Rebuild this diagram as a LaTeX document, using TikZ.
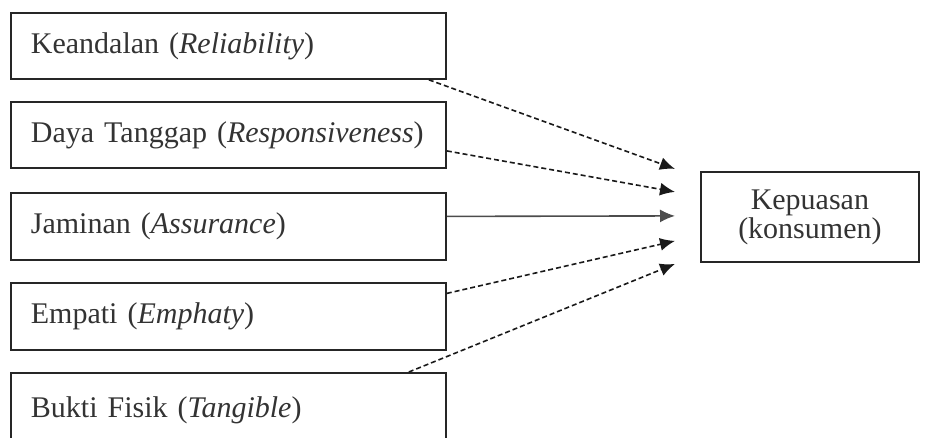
\documentclass[tikz,border=0pt]{standalone}
\usepackage{fontspec}
\setmainfont{Liberation Serif}
\usetikzlibrary{arrows.meta}

\tikzset{
  faktor/.style={draw=black!85,line width=1.8pt,minimum width=435pt,minimum height=66pt,
    text width=395pt,align=left,inner xsep=20pt,inner ysep=0pt,anchor=north west,
    font=\fontsize{30}{33}\selectfont,text=black!80},
  hasil/.style={draw=black!85,line width=1.8pt,minimum width=218pt,minimum height=90pt,
    align=center,inner sep=0pt,anchor=north west,font=\fontsize{30}{29}\selectfont,text=black!80},
  panah/.style={draw=black!90,line width=1.6pt,dash pattern=on 5pt off 3pt,-{Latex[length=15pt,width=13pt]}},
}

\begin{document}
\begin{tikzpicture}[x=1pt,y=1pt]
				\useasboundingbox (0,0) rectangle (929,-437);
				\clip (0,0) rectangle (929,-437);
				\node[faktor] (k1) at (10,-12) {Keandalan (\textit{Reliability})};
				\node[faktor] (k2) at (10,-101) {Daya Tanggap (\textit{Responsiveness})};
				\node[faktor,minimum height=67pt] (k3) at (10,-192) {Jaminan (\textit{Assurance})};
				\node[faktor,minimum height=67pt] (k4) at (10,-282) {Empati (\textit{Emphaty})};
				\node[faktor,minimum height=74pt] (k5) at (10,-372) {Bukti Fisik (\textit{Tangible})};
				\node[hasil] (kep) at (700,-171) {Kepuasan\\(konsumen)};
				\draw[panah] ([xshift=-18pt]k1.south east)--([xshift=-25pt,yshift=48pt]kep.west);
				\draw[panah] ([yshift=-16pt]k2.east)--([xshift=-25pt,yshift=25pt]kep.west);
				\draw[panah,solid,draw=black!70] ([yshift=10pt]k3.east)--([xshift=-25pt,yshift=1pt]kep.west);
				\draw[panah] ([yshift=23pt]k4.east)--([xshift=-25pt,yshift=-24pt]kep.west);
				\draw[panah] ([xshift=-38pt]k5.north east)--([xshift=-25pt,yshift=-47pt]kep.west);
			\end{tikzpicture}
\end{document}
